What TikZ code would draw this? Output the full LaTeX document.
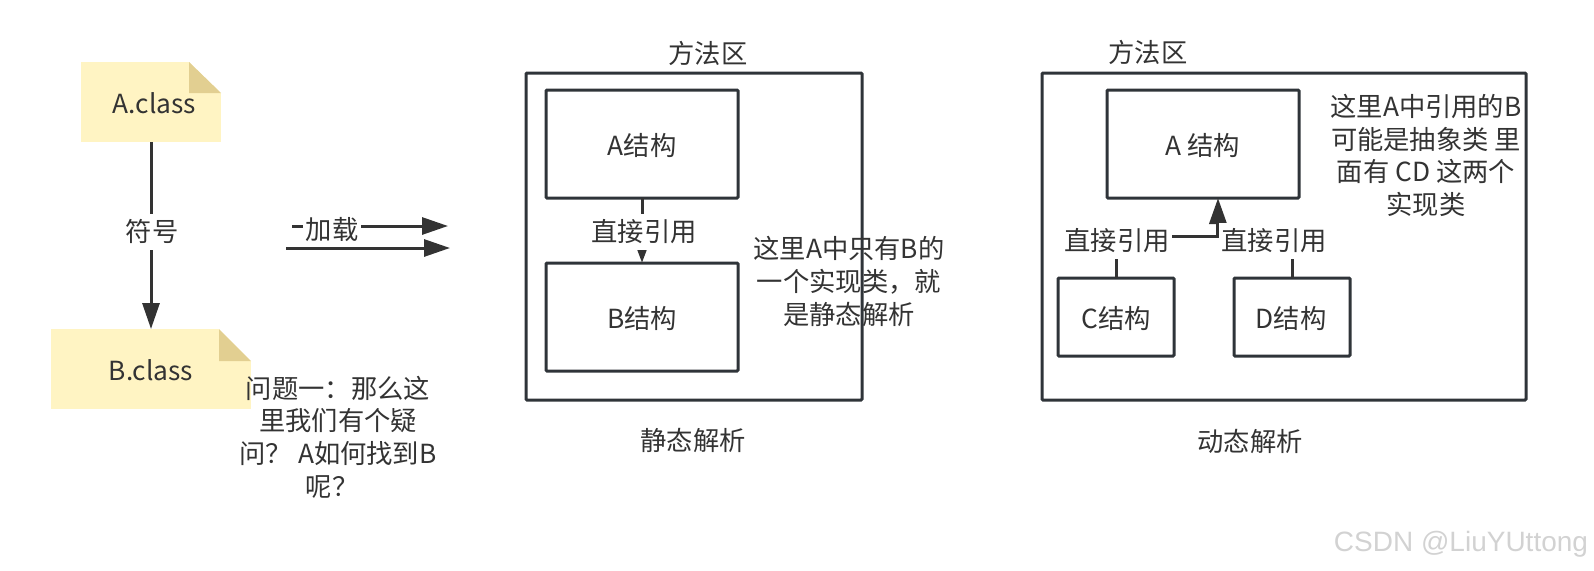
\documentclass[tikz,border=0pt]{standalone}
\usepackage{fontspec}
\usetikzlibrary{arrows.meta}
\setmainfont{Noto Sans CJK SC}
\newfontfamily\wmfont{Liberation Sans}
\definecolor{ink}{HTML}{333333}
\definecolor{edge}{HTML}{2F3439}
\definecolor{notefill}{HTML}{FFF4C3}
\definecolor{foldfill}{HTML}{E2CF91}
\definecolor{wm}{HTML}{D2D2D2}
\tikzset{
  txt/.style={text=ink,inner sep=0pt,outer sep=0pt,align=center,
    font=\fontsize{26.3}{32.6}\selectfont},
  one/.style={txt,text height=23pt,text depth=3.2pt},
  lbl/.style={one,fill=white,inner xsep=2pt,inner ysep=5pt},
  box/.style={draw=edge,line width=3pt,fill=none,rounded corners=1pt,outer sep=0pt,inner sep=0pt},
  note/.style={fill=notefill,inner sep=0pt,outer sep=0pt,minimum width=#1,minimum height=80pt},
  link/.style={draw=ink,line width=3pt,-{Triangle[length=26pt,width=17pt]}},
  plainlink/.style={draw=ink,line width=3pt},
}
\begin{document}
\begin{tikzpicture}[x=1pt,y=-1pt]
\useasboundingbox (0,0) rectangle (1594,570);
% notes
\node[note=140pt] (na) at (151,102) {};
\node[note=200pt] (nb) at (151,369) {};
\fill[white] (na.north east) ++(-32,0) -- (na.north east) -- ++(0,31) -- cycle;
\fill[foldfill] (na.north east) ++(-32,0) -- ++(32,31) -- ++(-32,0) -- cycle;
\fill[white] (nb.north east) ++(-32,0) -- (nb.north east) -- ++(0,32) -- cycle;
\fill[foldfill] (nb.north east) ++(-32,0) -- ++(32,32) -- ++(-32,0) -- cycle;
\node[one] (ta) at (154.5,104) {A.class};
\node[one] (tb) at (151,371) {B.class};
\draw[link] (na.south) -- (nb.north);
\node[lbl] (fuhao) at (152,232) {符号};
% loading arrows
\coordinate (l1s) at (292,226);
\coordinate (l1e) at (448,226);
\coordinate (l2s) at (286,248);
\coordinate (l2e) at (450,248);
\draw[link] (l1s) -- (l1e);
\node[one,fill=white,inner xsep=3pt,inner ysep=0pt] (jiazai) at (332,230) {加载};
\draw[link] (l2s) -- (l2e);
% static
\node[box,minimum width=336pt,minimum height=327pt] (s0) at (694,236.5) {};
\node[box,minimum width=192pt,minimum height=108pt] (sa) at (642,144) {};
\node[box,minimum width=192pt,minimum height=108pt] (sb) at (642,317) {};
\node[one] (tsa) at (642,146) {A结构};
\node[one] (tsb) at (642,319) {B结构};
\draw[link,-{Triangle[length=15pt,width=10pt]}] (sa.south) -- (sb.north);
\node[lbl] (sl) at (644,232) {直接引用};
\node[one] (m1) at (708,54) {方法区};
\node[one] (c1) at (693,441) {静态解析};
\node[txt] (st) at (849,281.5) {这里A中只有B的\\一个实现类，就\\是静态解析};
% dynamic
\node[box,minimum width=484pt,minimum height=327pt] (d0) at (1284,236.5) {};
\node[box,minimum width=192pt,minimum height=108pt] (da) at (1203,144) {};
\node[box,minimum width=116pt,minimum height=78pt] (dc) at (1116,317) {};
\node[box,minimum width=116pt,minimum height=78pt] (dd) at (1292,317) {};
\node[one] (tda) at (1203,146) {A 结构};
\node[one] (tdc) at (1116,319) {C结构};
\node[one] (tdd) at (1291,319) {D结构};
\coordinate (dj) at (1218,236);
\coordinate (dt) at (da.south -| dj);
\draw[plainlink] (dc.north) |- (dj);
\draw[plainlink] (dd.north) |- (dj);
\draw[link,line width=4pt] (dj) -- (dt);
\node[lbl] (dl1) at (1117,241) {直接引用};
\node[lbl] (dl2) at (1274,241) {直接引用};
\node[one] (m2) at (1148,53) {方法区};
\node[one] (c2) at (1250,442) {动态解析};
\node[txt] (dtx) at (1426,155.5) {这里A中引用的B\\可能是抽象类 里\\面有 CD 这两个\\实现类};
% question
\node[txt] (q) at (338,437) {问题一：那么这\\里我们有个疑\\问？ A如何找到B\\呢？\hspace*{12pt}};
% watermark
\node[text=wm,inner sep=0pt,font=\wmfont\fontsize{28}{30}\selectfont] (w) at (1461,544) {CSDN @LiuYUttong};
\end{tikzpicture}
\end{document}
